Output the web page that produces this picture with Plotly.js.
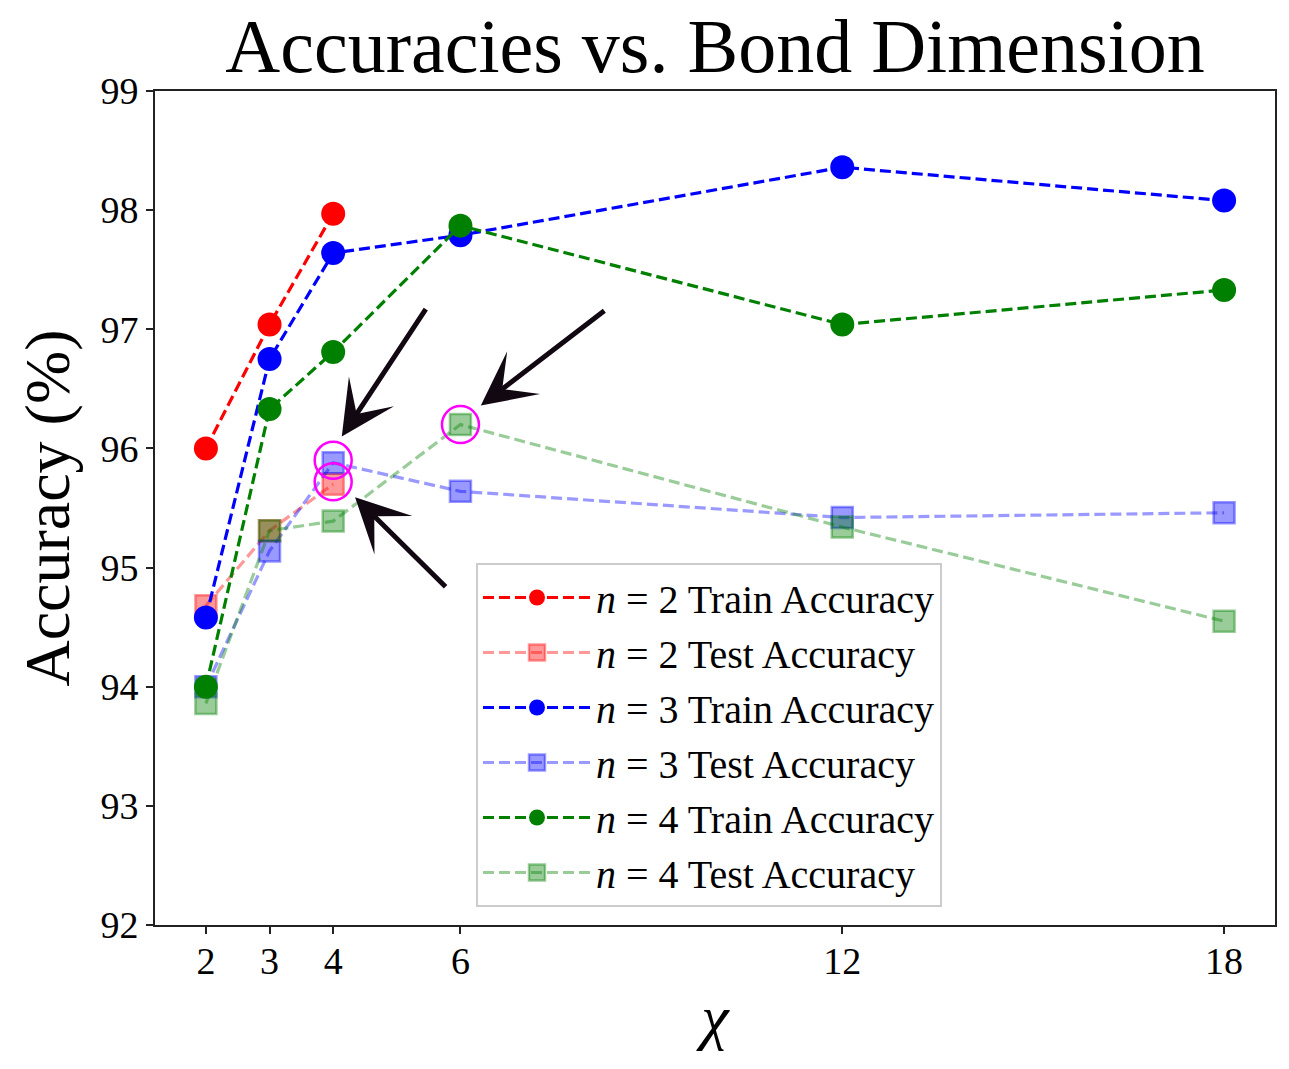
<!DOCTYPE html>
<html>
<head>
<meta charset="utf-8">
<script src="https://cdn.plot.ly/plotly-3.0.1.min.js"></script>
<style>html,body{margin:0;padding:0;background:#fff;}#chart{width:1289px;height:1069px;}</style>
</head>
<body>
<div id="chart"></div>
<script>
// ---- data ----
const chiValues = [2, 3, 4, 6, 12, 18];
const chiTicks = [2, 3, 4, 6, 12, 18];
const yTicks = [92, 93, 94, 95, 96, 97, 98, 99];

const n2Chi = [2, 3, 4];
const n2Train = [96.00, 97.04, 97.97];
const n2Test = [94.68, 95.31, 95.70];

const n3Train = [94.58, 96.75, 97.64, 97.79, 98.36, 98.08];
const n3Test = [94.00, 95.14, 95.88, 95.64, 95.42, 95.46];

const n4Train = [94.00, 96.33, 96.81, 97.87, 97.04, 97.33];
const n4Test = [93.86, 95.31, 95.39, 96.20, 95.34, 94.55];

// highlighted points
const hlChi = [4, 4, 6];
const hlAcc = [95.90, 95.72, 96.20];

// arrow tips (data) and tail offsets (px)
const arrowTipChi = [4.135, 6.32, 4.344];
const arrowTipAcc = [96.10, 96.36, 95.59];
const arrowTailDx = [85, 125, 92];
const arrowTailDy = [-129, -96, 91];

const FONT = 'Liberation Serif, DejaVu Serif, serif';
const DASH = '11px,5px';

function trainTrace(x, y, color, name) {
  return {x: x, y: y, type: 'scatter', mode: 'lines+markers', name: name,
    line: {color: color, width: 3.2, dash: DASH},
    marker: {symbol: 'circle', size: 24, color: color, line: {width: 0}}};
}
function testTrace(x, y, rgb, name) {
  const c = 'rgba(' + rgb + ',0.4)';
  return {x: x, y: y, type: 'scatter', mode: 'lines+markers', name: name,
    line: {color: c, width: 3.2, dash: DASH},
    marker: {symbol: 'square', size: 21, color: c, line: {width: 2.5, color: c}}};
}

const traces = [
  trainTrace(n2Chi, n2Train, '#ff0000', '<i>n</i> = 2 Train Accuracy'),
  testTrace(n2Chi, n2Test, '255,0,0', '<i>n</i> = 2 Test Accuracy'),
  trainTrace(chiValues, n3Train, '#0000ff', '<i>n</i> = 3 Train Accuracy'),
  testTrace(chiValues, n3Test, '0,0,255', '<i>n</i> = 3 Test Accuracy'),
  trainTrace(chiValues, n4Train, '#008000', '<i>n</i> = 4 Train Accuracy'),
  testTrace(chiValues, n4Test, '0,128,0', '<i>n</i> = 4 Test Accuracy'),
  {x: hlChi, y: hlAcc, type: 'scatter', mode: 'markers', showlegend: false,
    marker: {symbol: 'circle-open', size: 37, color: '#ff00ff', line: {width: 2.5, color: '#ff00ff'}}}
];

const annotations = arrowTipChi.map((x, i) => ({
  x: x, y: arrowTipAcc[i], xref: 'x', yref: 'y',
  ax: arrowTailDx[i], ay: arrowTailDy[i], axref: 'pixel', ayref: 'pixel',
  text: '', showarrow: true, arrowhead: 3, arrowsize: 1.8, arrowwidth: 5,
  arrowcolor: '#120812'
}));

const layout = {
  width: 1289, height: 1069,
  paper_bgcolor: '#ffffff', plot_bgcolor: '#ffffff',
  margin: {l: 155, r: 14, t: 91, b: 144},
  font: {family: FONT, color: '#000000', size: 30},
  title: {text: 'Accuracies vs. Bond Dimension', font: {family: FONT, size: 76, color: '#000'},
    x: 715 / 1289, xanchor: 'center', xref: 'container', y: 1 - 45 / 1069, yanchor: 'middle', yref: 'container'},
  xaxis: {
    range: [1.2, 18.8], tickmode: 'array', tickvals: chiTicks, ticktext: chiTicks.map(String),
    showgrid: false, zeroline: false, showline: true, mirror: true, linecolor: '#222', linewidth: 2,
    ticks: 'outside', ticklen: 7, tickwidth: 2, tickcolor: '#222',
    ticklabelstandoff: -6,
    tickfont: {family: FONT, size: 38, color: '#000'},
    title: {text: '<i>χ</i>', font: {family: FONT, size: 62, color: '#000'}, standoff: 14}
  },
  yaxis: {
    range: [92, 99], tickmode: 'array', tickvals: yTicks,
    showgrid: false, zeroline: false, showline: true, mirror: true, linecolor: '#222', linewidth: 2,
    ticks: 'outside', ticklen: 7, tickwidth: 2, tickcolor: '#222',
    tickfont: {family: FONT, size: 38, color: '#000'},
    title: {text: 'Accuracy (%)', font: {family: FONT, size: 64, color: '#000'}, standoff: 10}
  },
  legend: {
    x: (476 - 155) / 1120, y: 1 - (563 - 91) / 834, xanchor: 'left', yanchor: 'top',
    bgcolor: '#ffffff', bordercolor: '#cccccc', borderwidth: 2,
    font: {family: FONT, size: 40, color: '#000'},
    itemwidth: 108
  },
  annotations: annotations,
  showlegend: true
};

Plotly.newPlot('chart', traces, layout, {displayModeBar: false, staticPlot: true});
</script>
</body>
</html>
